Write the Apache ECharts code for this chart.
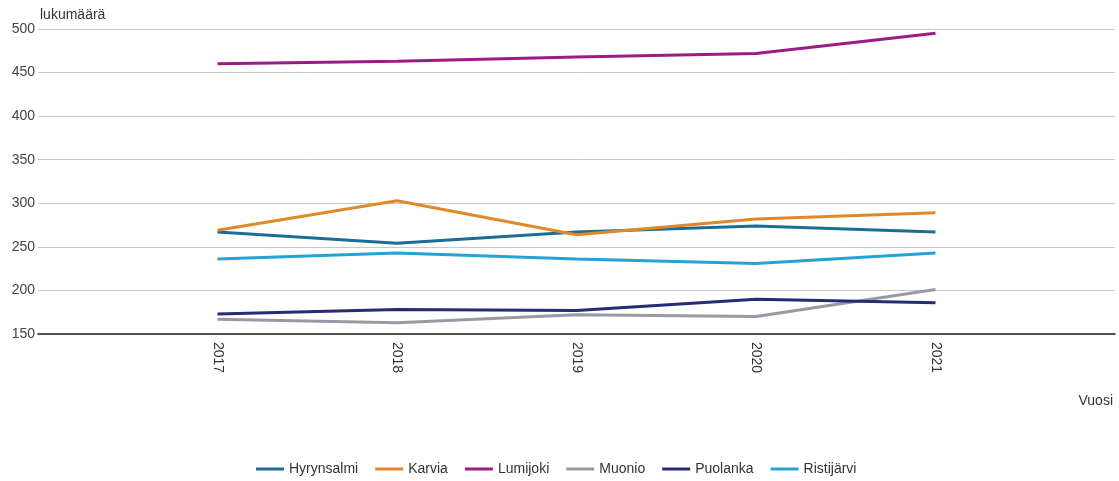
<!DOCTYPE html>
<html>
<head>
<meta charset="utf-8">
<script src="https://cdn.jsdelivr.net/npm/echarts@6/dist/echarts.min.js"></script>
<style>
  html, body { margin: 0; padding: 0; background: #fff; }
  #main { width: 1119px; height: 481px; }
</style>
</head>
<body>
<div id="main"></div>
<script>
var years = [2017, 2018, 2019, 2020, 2021];
var names = ['Hyrynsalmi', 'Karvia', 'Lumijoki', 'Muonio', 'Puolanka', 'Ristijärvi'];
var hyrynsalmi = [267, 254, 267, 274, 267];
var karvia = [269, 303, 264, 282, 289];
var lumijoki = [460, 463, 468, 472, 495];
var muonio = [167, 163, 172, 170, 201];
var puolanka = [173, 178, 177, 190, 186];
var ristijarvi = [236, 243, 236, 231, 243];
var colors = ['#1b6d96', '#e0892b', '#9b1b87', '#9a98a6', '#262b73', '#27a2d8'];

var values = [hyrynsalmi, karvia, lumijoki, muonio, puolanka, ristijarvi];

var myChart = echarts.init(document.getElementById('main'));

var series = names.map(function (name, i) {
    return {
        name: name,
        type: 'line',
        showSymbol: false,
        symbol: 'none',
        lineStyle: { width: 3 },
        data: years.map(function (y, j) { return [y, values[i][j]]; })
    };
});

var option = {
    color: colors,
    textStyle: { fontFamily: 'Liberation Sans, Arial, sans-serif' },
    legend: {
        bottom: 0,
        left: 251,
        icon: 'rect',
        itemWidth: 28,
        itemHeight: 3,
        itemGap: 17,
        textStyle: { fontSize: 14, color: '#333' },
        data: names
    },
    grid: {
        left: 38,
        right: 4,
        top: 29,
        bottom: 147
    },
    xAxis: {
        type: 'value',
        min: 2016,
        max: 2022,
        interval: 1,
        name: 'Vuosi',
        nameLocation: 'end',
        nameGap: -2,
        nameTextStyle: {
            fontSize: 14,
            color: '#333',
            align: 'right',
            verticalAlign: 'top',
            padding: [60, 0, 0, 0]
        },
        splitLine: { show: false },
        axisTick: { show: false },
        axisLine: { lineStyle: { color: '#222', width: 1.5 } },
        axisLabel: {
            rotate: -90,
            margin: 8,
            fontSize: 14,
            color: '#333',
            formatter: function (v) {
                return (v < 2017 || v > 2021) ? '' : String(v);
            }
        }
    },
    yAxis: {
        type: 'value',
        min: 150,
        max: 500,
        interval: 50,
        name: 'lukumäärä',
        nameLocation: 'end',
        nameGap: 5,
        nameTextStyle: {
            fontSize: 14,
            color: '#333',
            align: 'left',
            verticalAlign: 'bottom',
            padding: [0, 0, 0, 2]
        },
        axisLine: { show: false },
        axisTick: { show: false },
        axisLabel: { fontSize: 14, color: '#444', margin: 3 },
        splitLine: { lineStyle: { color: '#c8c8c8' } }
    },
    series: series
};
myChart.setOption(option);
</script>
</body>
</html>
